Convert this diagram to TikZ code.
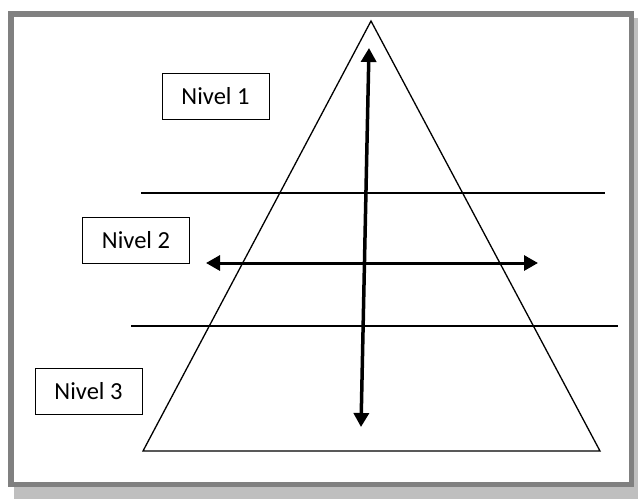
\documentclass[tikz,border=0pt]{standalone}
\usepackage{fontspec}
\setmainfont{Carlito}
\usetikzlibrary{arrows.meta}
\begin{document}
\begin{tikzpicture}[x=1pt,y=-1pt,
  levelbox/.style={draw=black,line width=1pt,minimum width=107pt,minimum height=46pt,inner sep=0pt,font=\fontsize{24.5}{28}\selectfont},
  thinline/.style={line width=1.3pt},
  bigarrow/.style={line width=3.5pt,{Triangle[length=14pt,width=15pt]}-{Triangle[length=14pt,width=15pt]}}]
\useasboundingbox (0,0) rectangle (638,499);
\fill[white] (0,0) rectangle (638,499);
% shadow
\fill[black!25] (14,18) rectangle (638,499);
% frame
\fill[white] (8,11) rectangle (634,487);
\draw[color={rgb,255:red,128;green,128;blue,128},line width=5.5pt] (10.75,13.75) rectangle (631.25,484.25);
% triangle
\coordinate (apex) at (371,21);
\coordinate (bl) at (143,451);
\coordinate (br) at (600,451);
\draw[thinline,line join=miter] (apex) -- (br) -- (bl) -- cycle;
% level lines
\coordinate (l1a) at (141,193);
\coordinate (l1b) at (605,193);
\coordinate (l2a) at (131,326);
\coordinate (l2b) at (618,326);
\draw[thinline] (l1a) -- (l1b);
\draw[thinline] (l2a) -- (l2b);
% arrows
\coordinate (vt) at (369,48);
\coordinate (vb) at (361,427);
\coordinate (hl) at (206,263);
\coordinate (hr) at (538,263);
\draw[bigarrow] (vt) -- (vb);
\draw[bigarrow,line width=3pt] (hl) -- (hr);
% boxes
\node[levelbox] (n1) at (215.5,96) {Nivel 1};
\node[levelbox] (n2) at (136,240.5) {Nivel 2};
\node[levelbox] (n3) at (88.5,391.5) {Nivel 3};
\end{tikzpicture}
\end{document}
